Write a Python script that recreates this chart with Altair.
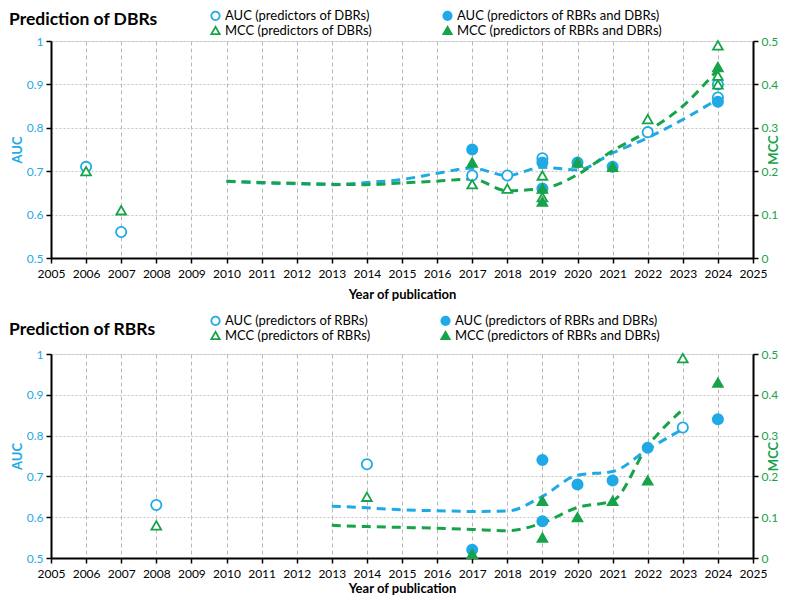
import altair as alt
import pandas as pd

BLUE = "#1FAAE6"
GREEN = "#17A349"
FONT = "Lato"

# ---------------- Panel 1: Prediction of DBRs ----------------
dbr_title = "Prediction of DBRs"
dbr_labels = [
    "AUC (predictors of DBRs)",
    "MCC (predictors of DBRs)",
    "AUC (predictors of RBRs and DBRs)",
    "MCC (predictors of RBRs and DBRs)",
]
dbr_auc_open_years = [2006, 2007, 2017, 2018, 2019, 2022, 2024, 2024]
dbr_auc_open_vals = [0.71, 0.56, 0.69, 0.69, 0.73, 0.79, 0.90, 0.87]
dbr_auc_both_years = [2017, 2019, 2019, 2020, 2021, 2024]
dbr_auc_both_vals = [0.75, 0.72, 0.66, 0.72, 0.71, 0.86]
dbr_mcc_open_years = [2006, 2007, 2017, 2018, 2019, 2019, 2022, 2024, 2024, 2024]
dbr_mcc_open_vals = [0.20, 0.11, 0.17, 0.16, 0.19, 0.14, 0.32, 0.49, 0.42, 0.40]
dbr_mcc_both_years = [2017, 2019, 2019, 2020, 2021, 2024]
dbr_mcc_both_vals = [0.22, 0.16, 0.13, 0.22, 0.21, 0.44]
dbr_trend_years = [2010, 2011, 2012, 2013, 2014, 2015, 2016, 2017, 2018, 2019, 2020, 2021, 2022, 2023, 2024]
dbr_auc_trend = [0.677, 0.673, 0.671, 0.669, 0.674, 0.681, 0.695, 0.707, 0.690, 0.709, 0.703, 0.742, 0.777, 0.819, 0.866]
dbr_mcc_trend = [0.177, 0.174, 0.172, 0.170, 0.169, 0.173, 0.177, 0.182, 0.155, 0.160, 0.192, 0.247, 0.292, 0.350, 0.435]

# ---------------- Panel 2: Prediction of RBRs ----------------
rbr_title = "Prediction of RBRs"
rbr_labels = [
    "AUC (predictors of RBRs)",
    "MCC (predictors of RBRs)",
    "AUC (predictors of RBRs and DBRs)",
    "MCC (predictors of RBRs and DBRs)",
]
rbr_auc_open_years = [2008, 2014, 2023]
rbr_auc_open_vals = [0.63, 0.73, 0.82]
rbr_auc_both_years = [2017, 2019, 2019, 2020, 2021, 2022, 2024]
rbr_auc_both_vals = [0.52, 0.74, 0.59, 0.68, 0.69, 0.77, 0.84]
rbr_mcc_open_years = [2008, 2014, 2023]
rbr_mcc_open_vals = [0.08, 0.15, 0.49]
rbr_mcc_both_years = [2017, 2019, 2019, 2020, 2021, 2022, 2024]
rbr_mcc_both_vals = [0.01, 0.14, 0.05, 0.10, 0.14, 0.19, 0.43]
rbr_trend_years = [2013, 2014, 2015, 2016, 2017, 2018, 2019, 2020, 2021, 2022, 2023]
rbr_auc_trend = [0.627, 0.623, 0.618, 0.616, 0.614, 0.615, 0.651, 0.703, 0.712, 0.766, 0.816]
rbr_mcc_trend = [0.080, 0.077, 0.075, 0.073, 0.070, 0.067, 0.086, 0.124, 0.140, 0.274, 0.364]

year_ticks = list(range(2005, 2026))
auc_ticks = [0.5, 0.6, 0.7, 0.8, 0.9, 1]
mcc_ticks = [0, 0.1, 0.2, 0.3, 0.4, 0.5]


def points_df(years_list, vals_list, labels):
    rows = []
    for yrs, vals, lab in zip(years_list, vals_list, labels):
        for yv, v in zip(yrs, vals):
            rows.append({"year": yv, "value": v, "series": lab})
    return pd.DataFrame(rows)


def panel(title, labels, auc_open, auc_both, mcc_open, mcc_both,
          t_years, t_auc, t_mcc, height, legend_y, title_y, xtitle_pad):
    # labels order: AUC open, MCC open, AUC both, MCC both
    auc_df = points_df([auc_open[0], auc_both[0]], [auc_open[1], auc_both[1]], [labels[0], labels[2]])
    mcc_df = points_df([mcc_open[0], mcc_both[0]], [mcc_open[1], mcc_both[1]], [labels[1], labels[3]])
    trend_df = pd.DataFrame({"year": t_years, "auc": t_auc, "mcc": t_mcc})
    title_df = pd.DataFrame({"t": [title]})

    x_enc = alt.X(
        "year:Q",
        scale=alt.Scale(domain=[2005, 2025], nice=False, zero=False),
        axis=alt.Axis(
            values=year_ticks, format="d", title="Year of publication",
            labelFont=FONT, labelFontSize=12, labelColor="black", labelPadding=5,
            labelOverlap=False, labelFlush=False,
            titleFont=FONT, titleFontSize=13, titleFontWeight="bold", titleColor="black",
            titlePadding=xtitle_pad, domainColor="black", domainWidth=2, tickColor="black",
            tickWidth=1.5, tickSize=5, grid=True, gridDash=[4, 3], gridColor="#b8b8b8",
            gridWidth=1,
        ),
    )
    auc_scale = alt.Scale(domain=[0.5, 1], nice=False, zero=False)
    mcc_scale = alt.Scale(domain=[0, 0.5], nice=False, zero=False)
    left_axis = alt.Axis(
        orient="left", values=auc_ticks, format=".1~f", title="AUC",
        labelFont=FONT, labelFontSize=12, labelColor=BLUE, labelPadding=3,
        titleFont=FONT, titleFontSize=13, titleFontWeight="bold", titleColor=BLUE,
        titlePadding=2, domainColor="black", domainWidth=2, tickColor="black",
        tickWidth=1.5, tickSize=5, grid=True, gridDash=[2, 2], gridColor="#c4c4c4",
    )
    right_axis = alt.Axis(
        orient="right", values=mcc_ticks, format=".1~f", title="MCC",
        labelFont=FONT, labelFontSize=12, labelColor=GREEN, labelPadding=3,
        titleFont=FONT, titleFontSize=13, titleFontWeight="bold", titleColor=GREEN,
        titlePadding=3, titleAngle=270, domainColor="black", domainWidth=2,
        tickColor="black", tickWidth=1.5, tickSize=5, grid=False,
    )

    legend = alt.Legend(
        title=None, orient="none", legendX=158, legendY=legend_y, columns=2,
        columnPadding=66, rowPadding=-1, labelFont=FONT, labelFontSize=13,
        labelColor="black", labelLimit=400, symbolSize=70, symbolStrokeWidth=1.8,
        labelOffset=3,
    )
    shape = alt.Shape("series:N", scale=alt.Scale(domain=labels, range=["circle", "triangle-up", "circle", "triangle-up"]), legend=legend)
    fill = alt.Fill("series:N", scale=alt.Scale(domain=labels, range=["white", "white", BLUE, GREEN]), legend=legend)
    stroke = alt.Stroke("series:N", scale=alt.Scale(domain=labels, range=[BLUE, GREEN, BLUE, GREEN]), legend=legend)

    auc_line = alt.Chart(trend_df).mark_line(
        color=BLUE, strokeDash=[9, 6], strokeWidth=3, interpolate="monotone"
    ).encode(x=x_enc, y=alt.Y("auc:Q", scale=auc_scale, axis=left_axis))
    mcc_line = alt.Chart(trend_df).mark_line(
        color=GREEN, strokeDash=[9, 6], strokeWidth=3, interpolate="monotone"
    ).encode(x=x_enc, y=alt.Y("mcc:Q", scale=mcc_scale, axis=right_axis))
    auc_pts = alt.Chart(auc_df).mark_point(filled=True, size=105, strokeWidth=1.8, opacity=1).encode(
        x=x_enc, y=alt.Y("value:Q", scale=auc_scale, axis=None),
        shape=shape, fill=fill, stroke=stroke,
    )
    mcc_pts = alt.Chart(mcc_df).mark_point(filled=True, size=95, strokeWidth=1.8, opacity=1).encode(
        x=x_enc, y=alt.Y("value:Q", scale=mcc_scale, axis=None),
        shape=shape, fill=fill, stroke=stroke,
    )
    title_txt = alt.Chart(title_df).mark_text(
        align="left", baseline="middle", font=FONT, fontSize=17.5, fontWeight="bold", color="black"
    ).encode(text="t:N", x=alt.value(-42), y=alt.value(title_y))
    return alt.layer(auc_line, mcc_line, auc_pts, mcc_pts, title_txt).resolve_scale(
        y="independent"
    ).properties(width=702, height=height)


top = panel(
    dbr_title, dbr_labels,
    (dbr_auc_open_years, dbr_auc_open_vals), (dbr_auc_both_years, dbr_auc_both_vals),
    (dbr_mcc_open_years, dbr_mcc_open_vals), (dbr_mcc_both_years, dbr_mcc_both_vals),
    dbr_trend_years, dbr_auc_trend, dbr_mcc_trend, 217, -32, -21, 9,
)
bottom = panel(
    rbr_title, rbr_labels,
    (rbr_auc_open_years, rbr_auc_open_vals), (rbr_auc_both_years, rbr_auc_both_vals),
    (rbr_mcc_open_years, rbr_mcc_open_vals), (rbr_mcc_both_years, rbr_mcc_both_vals),
    rbr_trend_years, rbr_auc_trend, rbr_mcc_trend, 204, -40, -24, 3,
)

chart = alt.vconcat(top, bottom, spacing=11).resolve_scale(
    shape="independent", fill="independent", stroke="independent"
).resolve_legend(
    shape="independent", fill="independent", stroke="independent"
).properties(padding=0).configure_view(strokeWidth=0).configure(background="white")

chart.save("out.html", embed_options={"renderer": "svg", "actions": False})
